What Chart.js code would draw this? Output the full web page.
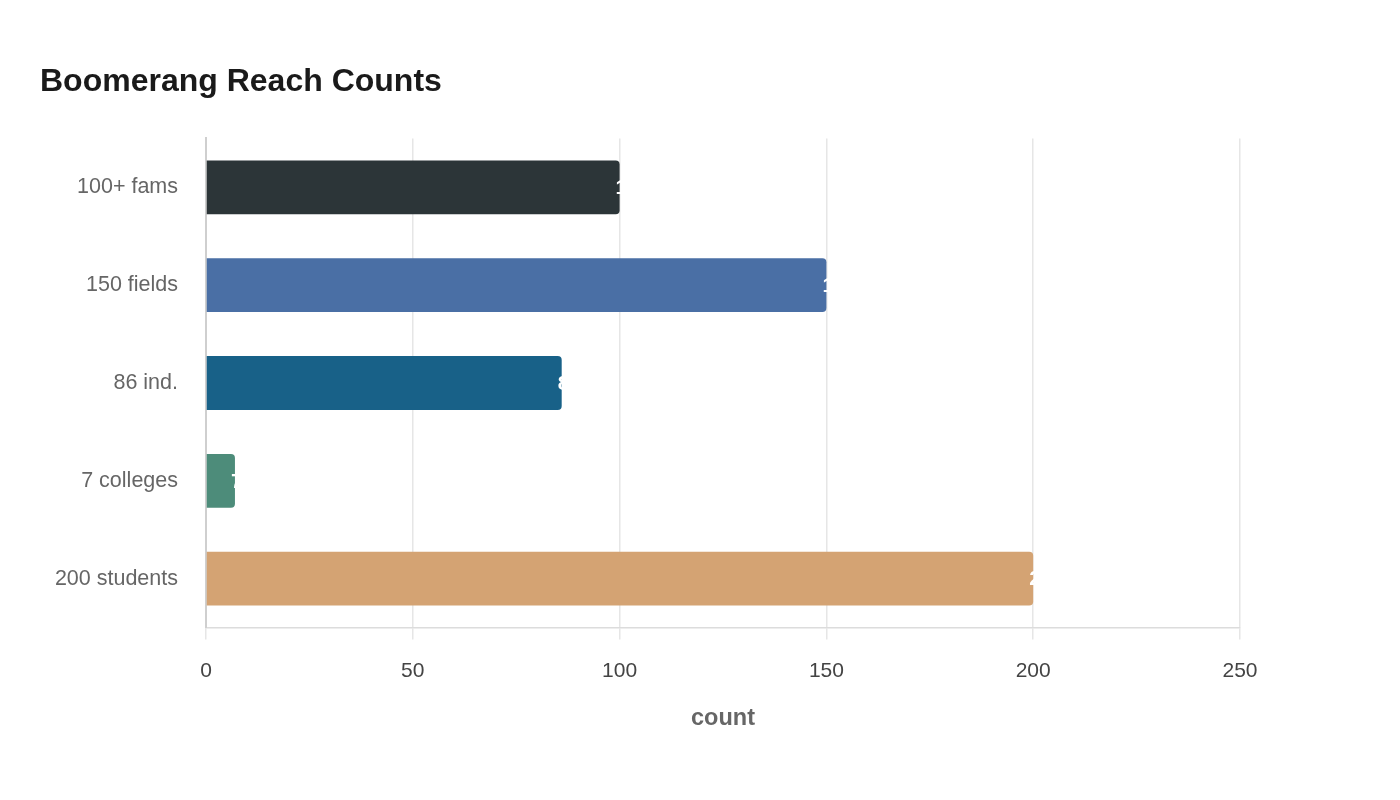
<!DOCTYPE html>
<html>
<head>
<meta charset="utf-8">
<script src="https://cdn.jsdelivr.net/npm/chart.js@4"></script>
<style>
  html, body { margin: 0; padding: 0; background: #fff; }
  #wrap { width: 1400px; height: 800px; }
</style>
</head>
<body>
<div id="wrap"><canvas id="chartReach"></canvas></div>
<script>
const categories = ["100+ fams", "150 fields", "86 ind.", "7 colleges", "200 students"];
const counts = [100, 150, 86, 7, 200];
const barColors = ["#2c3538", "#4a6fa5", "#186188", "#4d8c7a", "#d4a373"];
const xTicks = [0, 50, 100, 150, 200, 250];

const fontFamily = "'Liberation Sans', Arial, sans-serif";

// white value labels sitting at the end of each bar
const valueLabels = {
  id: "valueLabels",
  afterDatasetsDraw(chart) {
    const ctx = chart.ctx;
    const meta = chart.getDatasetMeta(0);
    ctx.save();
    ctx.font = "bold 21px " + fontFamily;
    ctx.fillStyle = "#ffffff";
    ctx.textAlign = "left";
    ctx.textBaseline = "middle";
    meta.data.forEach((bar, i) => {
      ctx.fillText(String(counts[i]), bar.x - 4, bar.y + 1);
    });
    ctx.restore();
  },
};

new Chart(document.getElementById("chartReach"), {
  type: "bar",
  data: {
    labels: categories,
    datasets: [
      {
        label: "count",
        data: counts,
        backgroundColor: barColors,
        borderRadius: 4,
        borderSkipped: "start",
        categoryPercentage: 1,
        barPercentage: 0.55,
      },
    ],
  },
  options: {
    indexAxis: "y",
    responsive: true,
    maintainAspectRatio: false,
    animation: false,
    layout: { padding: { left: 40, right: 160, top: 63, bottom: 63 } },
    plugins: {
      legend: { display: false },
      tooltip: { enabled: false },
      title: {
        display: true,
        text: "Boomerang Reach Counts",
        align: "start",
        color: "#1a1a1a",
        font: { family: fontFamily, size: 32, weight: "bold" },
        padding: { top: 0, bottom: 37 },
      },
    },
    scales: {
      x: {
        min: 0,
        max: 250,
        afterBuildTicks(axis) {
          axis.ticks = xTicks.map((v) => ({ value: v }));
        },
        grid: { color: "#e6e6e6", lineWidth: 1.5, tickLength: 12 },
        border: { color: "#dcdcdc", width: 1.5 },
        ticks: {
          color: "#444444",
          padding: 19,
          font: { family: fontFamily, size: 21 },
        },
        title: {
          display: true,
          text: "count",
          color: "#666666",
          font: { family: fontFamily, size: 23.5, weight: "bold" },
          padding: { top: 2 },
        },
      },
      y: {
        afterFit(axis) {
          axis.width = 166;
        },
        grid: { display: false, drawTicks: false },
        border: { color: "#cfcfcf", width: 2 },
        ticks: {
          color: "#666666",
          padding: 28,
          font: { family: fontFamily, size: 21.5 },
        },
      },
    },
  },
  plugins: [valueLabels],
});
</script>
</body>
</html>
